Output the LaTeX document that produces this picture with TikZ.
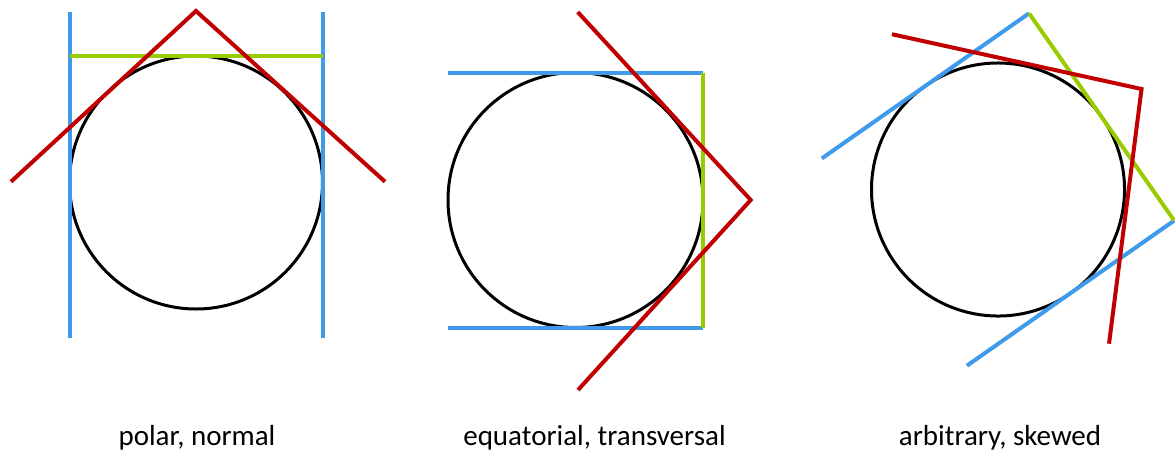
\documentclass[tikz,border=0pt]{standalone}
\usepackage{fontspec}
\setmainfont{Carlito}
\definecolor{cblue}{RGB}{61,155,233}
\definecolor{cgreen}{RGB}{153,204,0}
\definecolor{cred}{RGB}{192,0,0}
\tikzset{
  bluel/.style={draw=cblue,line width=4pt},
  greenl/.style={draw=cgreen,line width=4pt},
  redl/.style={draw=cred,line width=4pt},
  globe/.style={draw=black,line width=3pt},
  caption/.style={anchor=base,font=\fontsize{29}{33}\selectfont,inner sep=0pt}
}
\begin{document}
\begin{tikzpicture}[x=1pt,y=-1pt]
\useasboundingbox (0,0) rectangle (1175,453);
% panel 1: polar, normal
\draw[globe] (196,182.5) circle (126.5);
\draw[bluel] (70,12) -- (70,338);
\draw[bluel] (322.5,12) -- (322.5,338);
\draw[greenl] (70,56) -- (322.5,56);
\draw[redl] (11,181.7) -- (196,11) -- (385,181.7);
% panel 2: equatorial, transversal
\begin{scope}[shift={(575.5,200)}]
\draw[globe] (0,0) circle (127.5);
\draw[bluel] (-127.5,-127.5) -- (127.5,-127.5);
\draw[bluel] (-127.5,127.5) -- (127.5,127.5);
\draw[greenl] (127.5,-127.5) -- (127.5,127.5);
\draw[redl] (2.2,-188) -- (175.2,0) -- (2.5,190);
\end{scope}
% panel 3: arbitrary, skewed
\begin{scope}[shift={(998,189.5)},rotate=35]
\draw[globe] (0,0) circle (126.5);
\draw[bluel] (-126.5,-126.5) -- (126.5,-126.5);
\draw[bluel] (-126.5,126.5) -- (126.5,126.5);
\draw[greenl] (126.5,-126.5) -- (126.5,126.5);
\draw[redl] (2.2,-188) -- (175.2,0) -- (2.5,190);
\end{scope}
\node[caption] (c1) at (197,445) {polar, normal};
\node[caption] (c2) at (594.5,445) {equatorial, transversal};
\node[caption] (c3) at (1000,445) {arbitrary, skewed};
\end{tikzpicture}
\end{document}
